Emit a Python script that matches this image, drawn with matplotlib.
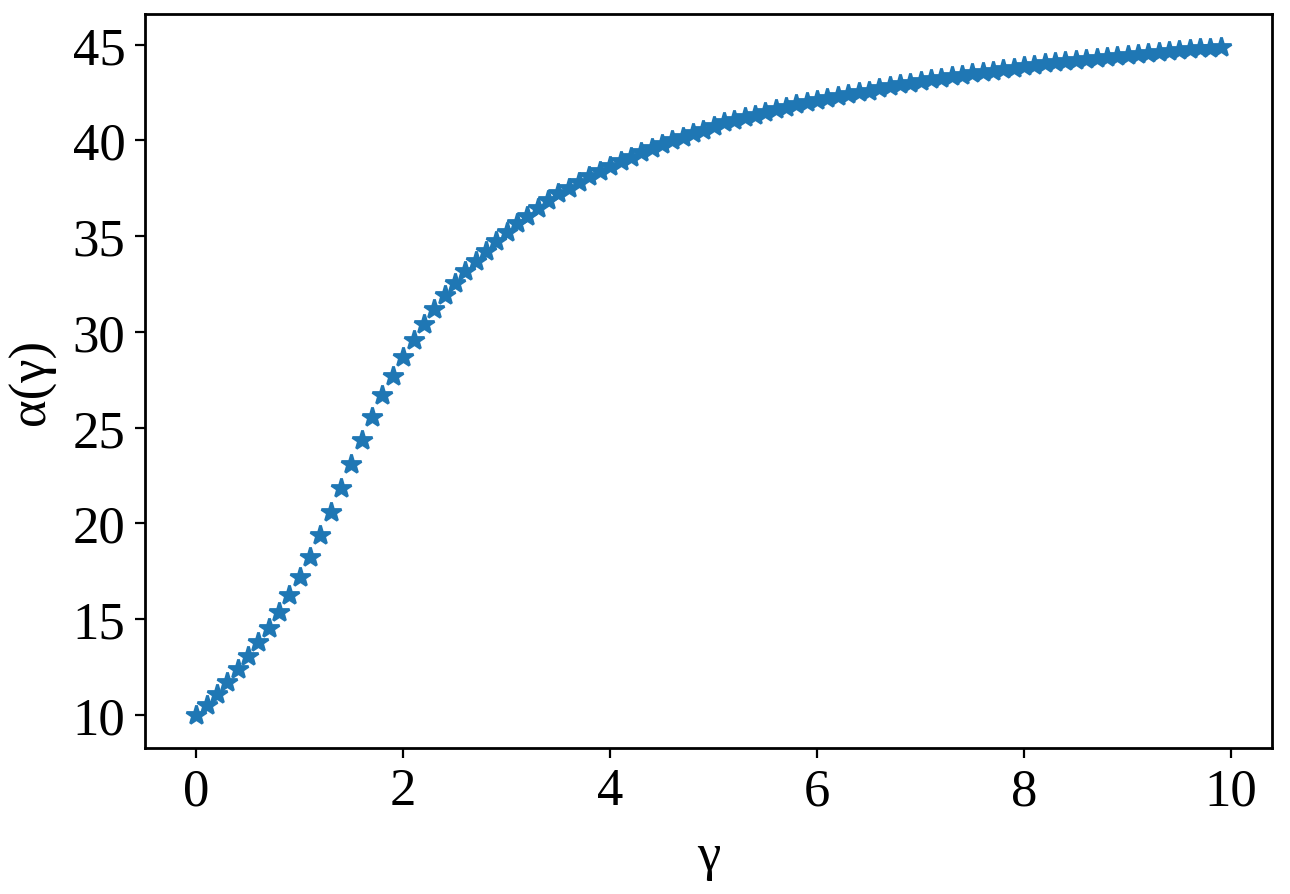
import numpy as np
import matplotlib
matplotlib.use("Agg")
import matplotlib.pyplot as plt

# gamma grid and alpha(gamma)
gamma = np.arange(100) / 10.0
alpha = [
    10.0, 10.52, 11.1, 11.7, 12.37, 13.05, 13.77, 14.54, 15.37, 16.24,
    17.2, 18.25, 19.38, 20.57, 21.83, 23.08, 24.35, 25.53, 26.69, 27.71,
    28.67, 29.57, 30.42, 31.18, 31.92, 32.57, 33.19, 33.72, 34.24, 34.76,
    35.22, 35.66, 36.04, 36.45, 36.9, 37.25, 37.54, 37.83, 38.15, 38.41,
    38.67, 38.93, 39.14, 39.42, 39.63, 39.8, 40.01, 40.19, 40.4, 40.55,
    40.76, 40.94, 41.08, 41.22, 41.34, 41.5, 41.63, 41.76, 41.91, 42.02,
    42.12, 42.23, 42.33, 42.44, 42.54, 42.6, 42.73, 42.86, 42.94, 43.01,
    43.1, 43.2, 43.28, 43.36, 43.43, 43.52, 43.58, 43.64, 43.73, 43.8,
    43.87, 43.96, 44.02, 44.08, 44.13, 44.18, 44.25, 44.29, 44.34, 44.39,
    44.44, 44.5, 44.55, 44.6, 44.65, 44.7, 44.76, 44.81, 44.85, 44.86,
]

plt.rcParams["font.family"] = ["Liberation Serif", "DejaVu Serif"]
plt.rcParams["font.size"] = 19

fig = plt.figure(figsize=(6.45, 4.475), dpi=200)
ax = fig.add_axes([0.1124, 0.1631, 0.8736, 0.8201])

ax.plot(gamma, alpha, "*", color="tab:blue", markersize=7.5)

ax.set_xlabel("γ", labelpad=6)
ax.set_ylabel("α(γ)", labelpad=6)
ax.set_xticks([0, 2, 4, 6, 8, 10])
ax.set_yticks([10, 15, 20, 25, 30, 35, 40, 45])
for s in ax.spines.values():
    s.set_linewidth(1.0)

fig.savefig("out.png", dpi=200)
